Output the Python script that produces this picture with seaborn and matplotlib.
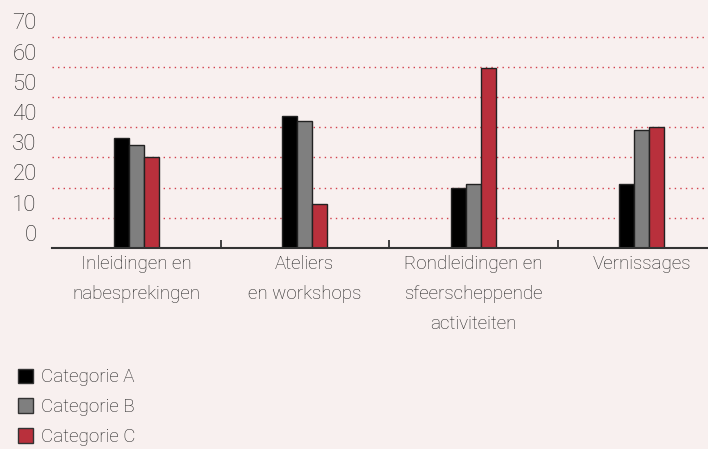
import matplotlib
matplotlib.use("Agg")
import matplotlib.pyplot as plt
import seaborn as sns
import pandas as pd
from matplotlib.patches import Patch
from matplotlib.ticker import FixedLocator

categories = ["Inleidingen en\nnabesprekingen", "Ateliers\nen workshops",
              "Rondleidingen en\nsfeerscheppende\nactiviteiten", "Vernissages"]
series_names = ["Categorie A", "Categorie B", "Categorie C"]
values_a = [36.4, 43.7, 19.9, 21.2]
values_b = [34.0, 41.9, 21.2, 39.1]
values_c = [30.0, 14.5, 59.5, 40.2]
y_tick_labels = ["0", "10", "20", "30", "40", "50", "60", "70"]
colors = ["#000000", "#7f7f7f", "#b9303c"]

rows = []
for name, vals in zip(series_names, [values_a, values_b, values_c]):
    for c, v in zip(categories, vals):
        rows.append({"cat": c, "val": v, "serie": name})
df = pd.DataFrame(rows)

sns.set_theme(style="white")
plt.rcParams['font.family'] = ['Roboto', 'DejaVu Sans']
plt.rcParams['font.weight'] = 'light'
bg = "#f8f0ef"
txt = "#1e1e1e"

fig = plt.figure(figsize=(7.08, 4.49), dpi=100, facecolor=bg)
ax = fig.add_axes([52/708, 1-248/449, 674/708, 248/449])
ax.set_facecolor(bg)

sns.barplot(data=df, x="cat", y="val", hue="serie", palette=colors,
            width=0.267, edgecolor="#222222", linewidth=1.0,
            ax=ax, legend=False, saturation=1)

ax.set_xlim(-0.5, 3.5)
ax.set_ylim(0, 82.1)

# gridlines at 10..70
for g in range(10, 80, 10):
    ax.axhline(g, color="#d2404c", linestyle=(0, (1, 3)), linewidth=1.0, zorder=0)

# y labels sit between gridlines
ax.set_yticks([int(t) + 5 for t in y_tick_labels])
ax.set_yticklabels(y_tick_labels, fontsize=16, color=txt, fontweight='light')
ax.tick_params(axis="y", length=0, pad=11)

ax.set_xticks(range(len(categories)))
ax.set_xticklabels(categories, fontsize=13.5, color=txt, linespacing=1.85, fontweight='light')
ax.tick_params(axis="x", which="major", length=0, pad=5)
ax.xaxis.set_minor_locator(FixedLocator([0.5, 1.5, 2.5]))
ax.tick_params(axis="x", which="minor", direction="in", length=6, width=1.2, color="#222222", bottom=True)

for s in ["left", "right", "top"]:
    ax.spines[s].set_visible(False)
ax.spines["bottom"].set_color("#333333")
ax.spines["bottom"].set_linewidth(1.5)
ax.set_xlabel("")
ax.set_ylabel("")

handles = [Patch(facecolor=c, edgecolor="#333333", linewidth=1.0) for c in colors]
fig.legend(handles, series_names, loc="upper left", bbox_to_anchor=(10/708, 1-361/449),
           frameon=False, prop={'size': 13.5, 'weight': 'light'},
           handlelength=0.85, handleheight=0.85,
           handletextpad=0.4, labelspacing=0.62, borderaxespad=0, labelcolor=txt)

fig.savefig("out.png", dpi=100, facecolor=bg)
